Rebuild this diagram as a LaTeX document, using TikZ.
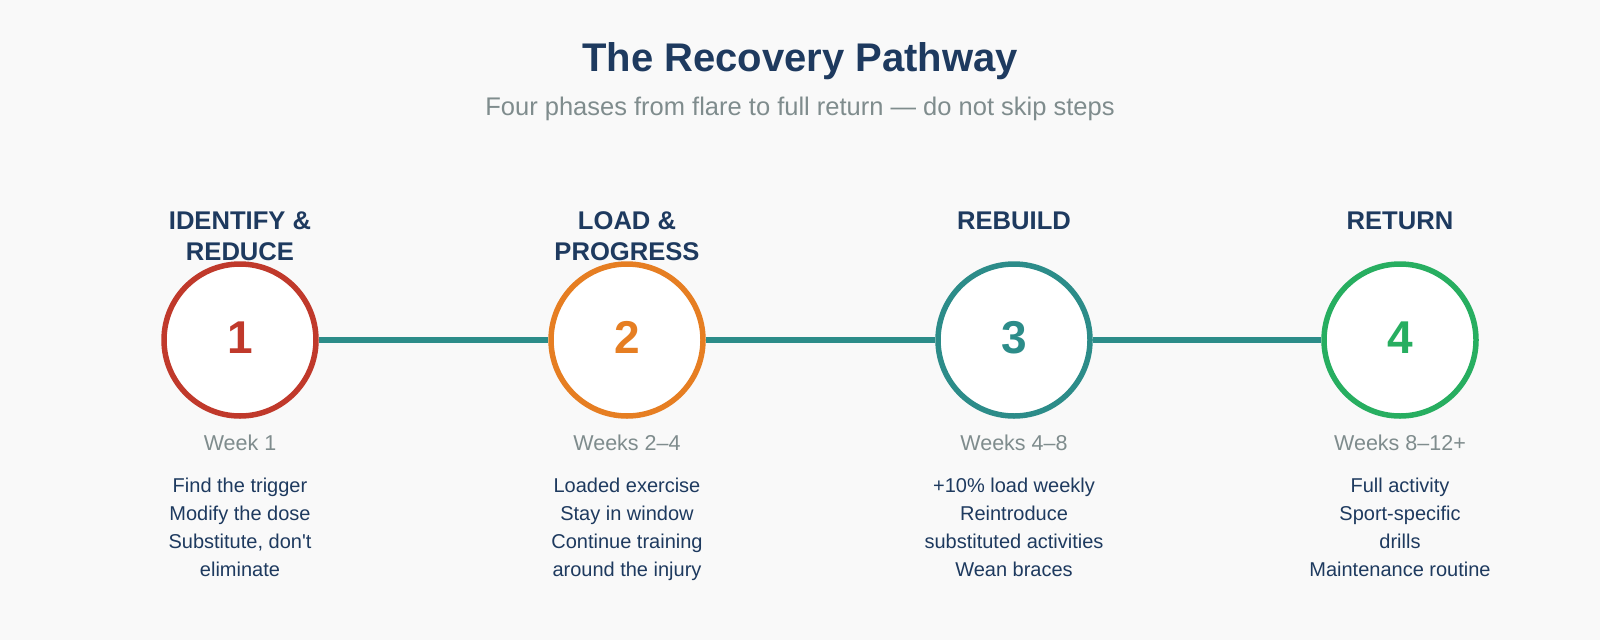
\documentclass[tikz,border=0pt]{standalone}
\usepackage{fontspec}
\setmainfont{Liberation Sans}
\usetikzlibrary{backgrounds}
\definecolor{bg}{HTML}{F9F9F9}
\definecolor{navy}{HTML}{1E3A5F}
\definecolor{graytxt}{HTML}{7F8C8D}
\definecolor{cred}{HTML}{C0392B}
\definecolor{corange}{HTML}{E67E22}
\definecolor{cteal}{HTML}{2C8C89}
\definecolor{cgreen}{HTML}{27AE60}
\tikzset{
  title/.style={anchor=base, inner sep=0, text=navy, font=\fontsize{40}{48}\selectfont\bfseries},
  subtitle/.style={anchor=base, inner sep=0, text=graytxt, font=\fontsize{25.5}{30}\selectfont},
  phasetitle/.style={anchor=base, inner sep=0, text=navy, font=\fontsize{25.6}{30}\selectfont\bfseries},
  phasecircle/.style={circle, draw=#1, line width=5.5pt, fill=white, minimum size=152pt, inner sep=0},
  phasenum/.style={anchor=base, inner sep=0, text=#1, font=\fontsize{46}{50}\selectfont\bfseries},
  weektxt/.style={anchor=base, inner sep=0, text=graytxt, font=\fontsize{21.5}{25}\selectfont},
  desctxt/.style={anchor=base, inner sep=0, text=navy, font=\fontsize{20}{28}\selectfont},
  conn/.style={draw=cteal, line width=5.5pt},
}
\begin{document}
\begin{tikzpicture}[x=1pt,y=-1pt]
\useasboundingbox (0,0) rectangle (1600,640);
\node[title] (ttl) at (800,71) {The Recovery Pathway};
\node[subtitle] (sub) at (800,115) {Four phases from flare to full return — do not skip steps};
% circles
\node[phasecircle=cred] (c1) at (240,340) {};
\node[phasecircle=corange] (c2) at (627,340) {};
\node[phasecircle=cteal] (c3) at (1014,340) {};
\node[phasecircle=cgreen] (c4) at (1400,340) {};
\begin{pgfonlayer}{background}
\fill[bg] (0,0) rectangle (1600,640);
\draw[conn] (c1) -- (c2);
\draw[conn] (c2) -- (c3);
\draw[conn] (c3) -- (c4);
\end{pgfonlayer}
\node[phasenum=cred] (n1) at (240,353) {1};
\node[phasenum=corange] (n2) at (627,353) {2};
\node[phasenum=cteal] (n3) at (1014,353) {3};
\node[phasenum=cgreen] (n4) at (1400,353) {4};
% phase titles
\node[phasetitle] (t1a) at (240,229.5) {IDENTIFY \&};
\node[phasetitle] (t1b) at (240,260) {REDUCE};
\node[phasetitle] (t2a) at (627,229.5) {LOAD \&};
\node[phasetitle] (t2b) at (627,260) {PROGRESS};
\node[phasetitle] (t3) at (1014,229.5) {REBUILD};
\node[phasetitle] (t4) at (1400,229.5) {RETURN};
% weeks
\node[weektxt] (w1) at (240,450) {Week 1};
\node[weektxt] (w2) at (627,450) {Weeks 2–4};
\node[weektxt] (w3) at (1014,450) {Weeks 4–8};
\node[weektxt] (w4) at (1400,450) {Weeks 8–12+};
% descriptions
\node[desctxt] (d1a) at (240,492.7) {Find the trigger};
\node[desctxt] (d1b) at (240,520.7) {Modify the dose};
\node[desctxt] (d1c) at (240,548.7) {Substitute, don\textquotesingle t};
\node[desctxt] (d1d) at (240,576.7) {eliminate};
\node[desctxt] (d2a) at (627,492.7) {Loaded exercise};
\node[desctxt] (d2b) at (627,520.7) {Stay in window};
\node[desctxt] (d2c) at (627,548.7) {Continue training};
\node[desctxt] (d2d) at (627,576.7) {around the injury};
\node[desctxt] (d3a) at (1014,492.7) {+10\% load weekly};
\node[desctxt] (d3b) at (1014,520.7) {Reintroduce};
\node[desctxt] (d3c) at (1014,548.7) {substituted activities};
\node[desctxt] (d3d) at (1014,576.7) {Wean braces};
\node[desctxt] (d4a) at (1400,492.7) {Full activity};
\node[desctxt] (d4b) at (1400,520.7) {Sport-specific};
\node[desctxt] (d4c) at (1400,548.7) {drills};
\node[desctxt] (d4d) at (1400,576.7) {Maintenance routine};
\end{tikzpicture}
\end{document}
